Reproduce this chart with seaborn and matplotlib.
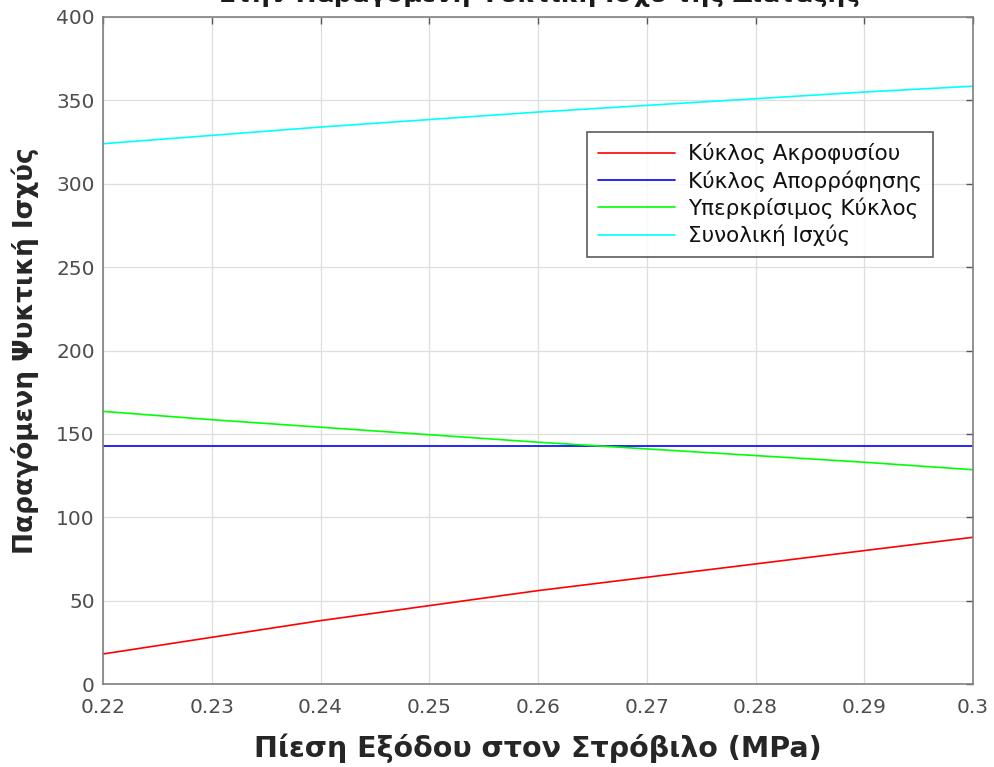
import matplotlib
matplotlib.use("Agg")
import matplotlib.pyplot as plt
import seaborn as sns
import pandas as pd

pressure = [0.22, 0.23, 0.24, 0.25, 0.26, 0.27, 0.28, 0.29, 0.30]
kyklos_akrofysiou = [18, 28, 38, 47, 56, 64, 72, 80, 88]
kyklos_aporrofisis = [142.5] * 9
yperkrisimos = [163.5, 158.5, 154, 149.5, 145, 141, 137, 133, 128.5]
synoliki = [324, 329, 334, 338.5, 343, 347, 351, 355, 358.5]

labels = ["Κύκλος Ακροφυσίου", "Κύκλος Απορρόφησης", "Υπερκρίσιμος Κύκλος", "Συνολική Ισχύς"]
series = [kyklos_akrofysiou, kyklos_aporrofisis, yperkrisimos, synoliki]
colors = ["#ff0000", "#0000ff", "#00ff00", "#00ffff"]

rows = []
for lab, vals in zip(labels, series):
    for x, v in zip(pressure, vals):
        rows.append({"p": x, "v": v, "s": lab})
df = pd.DataFrame(rows)

sns.set_style("white")
plt.rcParams["font.family"] = ["DejaVu Sans"]

fig = plt.figure(figsize=(9.95, 7.67), dpi=100)
ax = fig.add_axes([103/995, 1-684/767, (973-103)/995, (684-17)/767])

sns.lineplot(data=df, x="p", y="v", hue="s", palette=dict(zip(labels, colors)),
             hue_order=labels, ax=ax, linewidth=1.2)

ax.set_xlim(0.22, 0.30)
ax.set_ylim(0, 400)
ax.set_xticks(pressure)
ax.set_xticklabels(["0.22", "0.23", "0.24", "0.25", "0.26", "0.27", "0.28", "0.29", "0.3"])
ax.set_yticks(range(0, 401, 50))
ax.grid(True, color="#dedede", linewidth=0.9)
ax.set_axisbelow(True)
for s in ax.spines.values():
    s.set_color("#808080")
    s.set_linewidth(1.2)
ax.tick_params(direction="in", top=True, right=True, length=5, width=1,
               colors="#555555", labelsize=14.5, labelcolor="#4d4d4d")
ax.tick_params(axis="x", pad=10)
ax.tick_params(axis="y", pad=6)

ax.set_xlabel("Πίεση Εξόδου στον Στρόβιλο (MPa)", fontsize=20.5, fontweight="bold",
              color="#262626", labelpad=12)
ax.set_ylabel("Παραγόμενη Ψυκτική Ισχύς", fontsize=19, fontweight="bold",
              color="#262626", labelpad=12)

fig.text(540/995, 1 - 2/767, "Στην Παραγόμενη Ψυκτική Ισχύ της Διάταξης",
         ha="center", va="baseline", fontsize=18, fontweight="bold", color="#1a1a1a")

leg = ax.legend(loc="upper left", bbox_to_anchor=((587-103)/870, 1-(132-17)/667),
                borderaxespad=0, frameon=True, fontsize=15.5, handlelength=3.6,
                borderpad=0.5, labelspacing=0.27, handletextpad=0.6, fancybox=False)
leg.get_frame().set_edgecolor("#333333")
leg.get_frame().set_linewidth(1.2)
for t in leg.get_texts():
    t.set_color("#111111")

fig.savefig("out.png", dpi=100)
